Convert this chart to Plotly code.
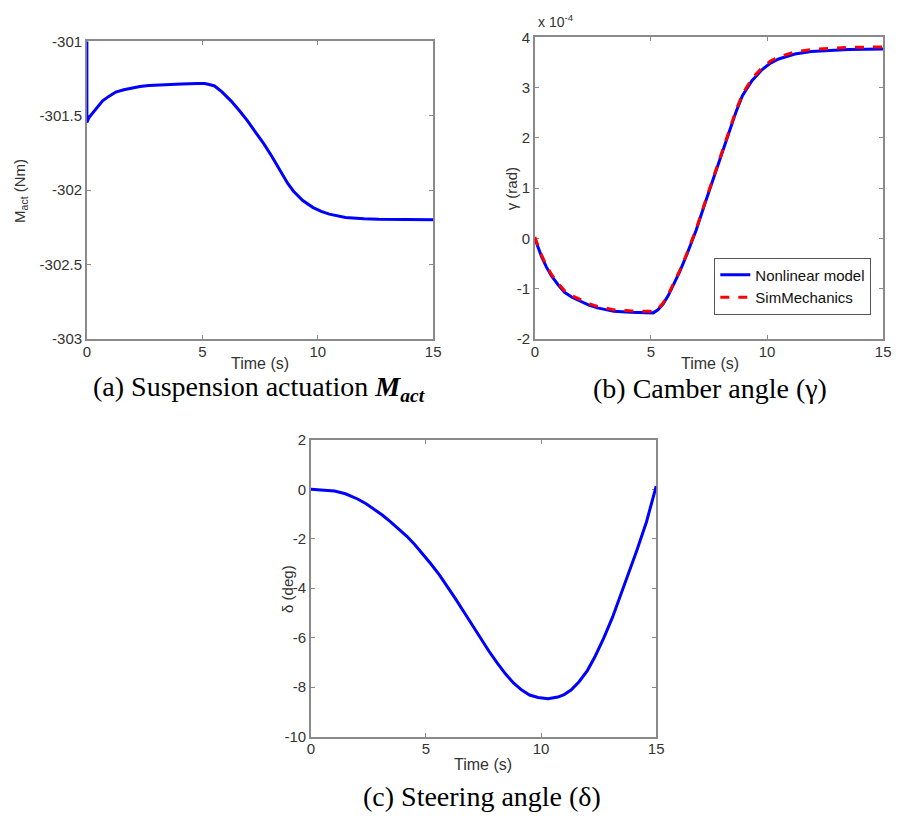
import plotly.graph_objects as go

# ---------------- data ----------------
# (a) Suspension actuation M_act (Nm)
t_a = [0, 0, 0.1, 0.26, 0.45, 0.68, 0.95, 1.25, 1.6, 1.97, 2.3, 2.68, 3.39, 4.10, 4.8, 5.1,
       5.3, 5.53, 5.85, 6.24, 6.6, 6.95, 7.3, 7.66, 8.0, 8.38, 8.7, 8.95, 9.35, 9.8, 10.15,
       10.5, 11.2, 12.0, 12.65, 15]
m_act = [-301.0, -301.544, -301.51, -301.478, -301.44, -301.40, -301.37, -301.341, -301.325,
         -301.313, -301.303, -301.297, -301.29, -301.286, -301.283, -301.284, -301.29, -301.30,
         -301.34, -301.40, -301.465, -301.533, -301.61, -301.687, -301.77, -301.874, -301.955,
         -302.007, -302.07, -302.117, -302.143, -302.161, -302.183, -302.192, -302.196, -302.198]

# (b) Camber angle gamma (units of 1e-4 rad)
t_b = [0, 0.14, 0.28, 0.5, 0.71, 1.0, 1.28, 1.6, 1.99, 2.35, 2.7, 3.05, 3.4, 4.11, 4.8, 5.1,
       5.3, 5.53, 5.75, 5.96, 6.25, 6.52, 6.75, 6.95, 7.3, 7.66, 8.0, 8.37, 8.65, 8.94, 9.35,
       9.79, 10.15, 10.5, 11.2, 11.9, 12.6, 13.5, 15]
gamma_nl = [0.0, -0.18, -0.35, -0.57, -0.74, -0.92, -1.07, -1.17, -1.26, -1.33, -1.38, -1.42,
            -1.45, -1.47, -1.48, -1.48, -1.42, -1.30, -1.13, -0.94, -0.65, -0.35, -0.07, 0.17,
            0.66, 1.15, 1.64, 2.12, 2.50, 2.84, 3.14, 3.36, 3.49, 3.57, 3.67, 3.72, 3.74, 3.76,
            3.77]
gamma_sm = [0.03, -0.15, -0.32, -0.54, -0.71, -0.89, -1.04, -1.14, -1.23, -1.30, -1.35, -1.39,
            -1.42, -1.44, -1.45, -1.45, -1.40, -1.28, -1.11, -0.92, -0.63, -0.33, -0.05, 0.19,
            0.68, 1.17, 1.66, 2.15, 2.53, 2.87, 3.18, 3.40, 3.53, 3.61, 3.71, 3.76, 3.78, 3.80,
            3.81]

# (c) Steering angle delta (deg)
t_c = [0, 0.5, 1.03, 1.5, 2.03, 2.4, 2.74, 3.1, 3.45, 3.8, 4.17, 4.5, 4.88, 5.2, 5.59, 5.95,
       6.3, 6.65, 7.02, 7.37, 7.73, 8.1, 8.45, 8.8, 9.16, 9.5, 9.87, 10.3, 10.73, 11.0, 11.3,
       11.65, 12.01, 12.35, 12.72, 13.1, 13.44, 13.8, 14.15, 14.58, 15]
delta = [0.0, -0.02, -0.07, -0.18, -0.39, -0.58, -0.79, -1.04, -1.31, -1.59, -1.90, -2.22,
         -2.62, -3.00, -3.47, -3.95, -4.45, -4.96, -5.50, -6.03, -6.54, -7.03, -7.46, -7.83,
         -8.12, -8.32, -8.42, -8.47, -8.40, -8.30, -8.12, -7.78, -7.33, -6.75, -6.02, -5.18,
         -4.32, -3.42, -2.49, -1.31, 0.13]

x_ticks = [0, 5, 10, 15]
x_tick_text = ["0", "5", "10", "15"]
a_ticks = [-303, -302.5, -302, -301.5, -301]
a_tick_text = ["-303", "-302.5", "-302", "-301.5", "-301"]
b_ticks = [-2, -1, 0, 1, 2, 3, 4]
b_tick_text = ["-2", "-1", "0", "1", "2", "3", "4"]
c_ticks = [-10, -8, -6, -4, -2, 0, 2]
c_tick_text = ["-10", "-8", "-6", "-4", "-2", "0", "2"]

# ---------------- figure ----------------
W, H = 902, 820
def px(x): return x / W
def py(y): return 1 - y / H

BLUE = "#0000ff"
RED = "#ff0000"
AX = "#8a8a8a"
TXT = "#333333"
SANS = "Arial, Liberation Sans, sans-serif"
SERIF = "Liberation Serif, Times New Roman, serif"

fig = go.Figure()
fig.add_trace(go.Scatter(x=t_a, y=m_act, mode="lines", line=dict(color=BLUE, width=3),
                         xaxis="x", yaxis="y", showlegend=False))
fig.add_trace(go.Scatter(x=t_b, y=gamma_nl, mode="lines", line=dict(color=BLUE, width=3),
                         xaxis="x2", yaxis="y2", name="Nonlinear model"))
fig.add_trace(go.Scatter(x=t_b, y=gamma_sm, mode="lines", line=dict(color=RED, width=3, dash="dash"),
                         xaxis="x2", yaxis="y2", name="SimMechanics"))
fig.add_trace(go.Scatter(x=t_c, y=delta, mode="lines", line=dict(color=BLUE, width=3),
                         xaxis="x3", yaxis="y3", showlegend=False))

def xax(dom, anchor):
    return dict(domain=dom, anchor=anchor, range=[0, 15], tickvals=x_ticks, ticktext=x_tick_text,
                showline=True, linecolor=AX, linewidth=1.5, mirror="ticks", ticks="inside",
                ticklen=4, tickcolor=AX, showgrid=False, zeroline=False, layer="below traces",
                ticklabelstandoff=-2,
                tickfont=dict(family=SANS, size=15, color=TXT))

def yax(dom, anchor, rng, tv, tt):
    return dict(domain=dom, anchor=anchor, range=rng, tickvals=tv, ticktext=tt,
                showline=True, linecolor=AX, linewidth=1.5, mirror="ticks", ticks="inside",
                ticklen=4, tickcolor=AX, showgrid=False, zeroline=False, layer="below traces",
                tickfont=dict(family=SANS, size=15, color=TXT))

fig.update_layout(
    width=W, height=H, margin=dict(l=0, r=0, t=0, b=0),
    paper_bgcolor="white", plot_bgcolor="white",
    xaxis=xax([px(84), px(435)], "y"),
    yaxis=yax([py(337), py(33)], "x", [-303, -301], a_ticks, a_tick_text),
    xaxis2=xax([px(538), px(891)], "y2"),
    yaxis2=yax([py(337), py(29)], "x2", [-2, 4], b_ticks, b_tick_text),
    xaxis3=xax([px(311), px(661)], "y3"),
    yaxis3=yax([py(743), py(440)], "x3", [-10, 2], c_ticks, c_tick_text),
    legend=dict(x=px(879), y=py(312), xanchor="right", yanchor="bottom",
                bgcolor="white", bordercolor="#555555", borderwidth=1,
                font=dict(family=SANS, size=15, color="#111111"),
                tracegroupgap=0, itemwidth=30),
    showlegend=True,
)

ann = []
def A(x, y, text, size=16, family=SANS, angle=0, xanchor="center", yanchor="middle", color=TXT):
    ann.append(dict(x=px(x), y=py(y), xref="paper", yref="paper", text=text, showarrow=False,
                    textangle=angle, xanchor=xanchor, yanchor=yanchor,
                    font=dict(family=family, size=size, color=color)))

A(259, 362, "Time (s)")
A(716, 362, "Time (s)")
A(485, 772, "Time (s)")
A(16, 186, "M<sub>act</sub> (Nm)", size=15, angle=-90)
A(514, 184, "γ (rad)", size=15, angle=-90)
A(288, 592, "δ (deg)", size=15, angle=-90)
A(539, 12, "x 10<sup>-4</sup>", size=14, xanchor="left")
A(258, 388, "(a) Suspension actuation <b><i>M<sub>act</sub></i></b>", size=28, family=SERIF, color="#000000")
A(716, 388, "(b) Camber angle (γ)", size=28, family=SERIF, color="#000000")
A(484, 804, "(c) Steering angle (δ)", size=28, family=SERIF, color="#000000")
fig.update_layout(annotations=ann)

fig.write_html("out.html")
